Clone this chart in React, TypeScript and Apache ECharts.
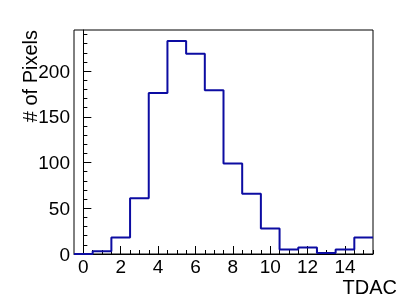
import React, { useEffect, useRef } from "react";
import * as echarts from "echarts";

const binCenters = [0, 1, 2, 3, 4, 5, 6, 7, 8, 9, 10, 11, 12, 13, 14, 15];
const pixelCounts = [0, 3, 18, 61, 176, 233, 219, 179, 99, 66, 28, 5, 7, 1, 5, 18];
const binWidth = 1;
const xTickLabels = [0, 2, 4, 6, 8, 10, 12, 14];
const yTickLabels = [0, 50, 100, 150, 200];
const xTitle = "TDAC";
const yTitle = "# of Pixels";

const FONT = "'Liberation Sans', Arial, Helvetica, sans-serif";

export default function App() {
  const ref = useRef<HTMLDivElement>(null);
  useEffect(() => {
    if (!ref.current) return;
    const chart = echarts.init(ref.current, undefined, { renderer: "svg" });
    const xMin = binCenters[0] - binWidth / 2;
    const xMax = binCenters[binCenters.length - 1] + binWidth / 2;
    const yMax = 245;
    const stepData: number[][] = binCenters.map((c, i) => [c - binWidth / 2, pixelCounts[i]]);
    stepData.push([xMax, pixelCounts[pixelCounts.length - 1]]);
    const xMinor: number[] = [];
    for (let v = 0; v <= xMax; v += 0.5) xMinor.push(v);
    const yMinor: number[] = [];
    for (let v = 0; v <= yMax; v += 10) yMinor.push(v);

    chart.setOption({
      animation: false,
      grid: {
        left: 74,
        right: 42,
        top: 30,
        bottom: 45,
        show: true,
        borderColor: "#000",
        borderWidth: 1,
        backgroundColor: "transparent",
      },
      xAxis: [
        {
          type: "value",
          min: xMin,
          max: xMax,
          position: "bottom",
          axisLine: { show: true, lineStyle: { color: "#000", width: 1 } },
          axisTick: {
            show: true,
            inside: true,
            length: 8,
            customValues: xTickLabels,
            lineStyle: { color: "#000" },
          },
          axisLabel: {
            customValues: xTickLabels,
            color: "#000",
            fontFamily: FONT,
            fontSize: 19,
            margin: 3,
          },
          splitLine: { show: false },
        },
        {
          type: "value",
          min: xMin,
          max: xMax,
          position: "bottom",
          axisLine: { show: false },
          axisTick: {
            show: true,
            inside: true,
            length: 4,
            customValues: xMinor,
            lineStyle: { color: "#000" },
          },
          axisLabel: { show: false },
          splitLine: { show: false },
        },
      ],
      yAxis: [
        {
          type: "value",
          min: 0,
          max: yMax,
          position: "left",
          axisLine: { show: true, lineStyle: { color: "#000", width: 1 } },
          axisTick: {
            show: true,
            inside: true,
            length: 8,
            customValues: yTickLabels,
            lineStyle: { color: "#000" },
          },
          axisLabel: {
            customValues: yTickLabels,
            color: "#000",
            fontFamily: FONT,
            fontSize: 19,
            margin: 4,
          },
          splitLine: { show: false },
        },
        {
          type: "value",
          min: 0,
          max: yMax,
          position: "left",
          axisLine: { show: false },
          axisTick: {
            show: true,
            inside: true,
            length: 4,
            customValues: yMinor,
            lineStyle: { color: "#000" },
          },
          axisLabel: { show: false },
          splitLine: { show: false },
        },
      ],
      series: [
        {
          type: "line",
          step: "end",
          xAxisIndex: 0,
          yAxisIndex: 0,
          data: stepData,
          symbol: "none",
          z: 5,
          lineStyle: { color: "#0c0ca2", width: 2 },
        },
      ],
      graphic: [
        {
          type: "text",
          right: 18,
          top: 277,
          style: {
            text: xTitle,
            fill: "#000",
            font: `20px ${FONT}`,
          },
        },
        {
          type: "text",
          x: 30,
          y: 30,
          rotation: Math.PI / 2,
          style: {
            text: yTitle,
            fill: "#000",
            font: `20px ${FONT}`,
            align: "right",
            verticalAlign: "middle",
          },
        },
      ],
    });
    return () => chart.dispose();
  }, []);
  return (
    <div
      ref={ref}
      style={{ position: "fixed", left: 0, top: 0, width: 415, height: 299 }}
    />
  );
}
